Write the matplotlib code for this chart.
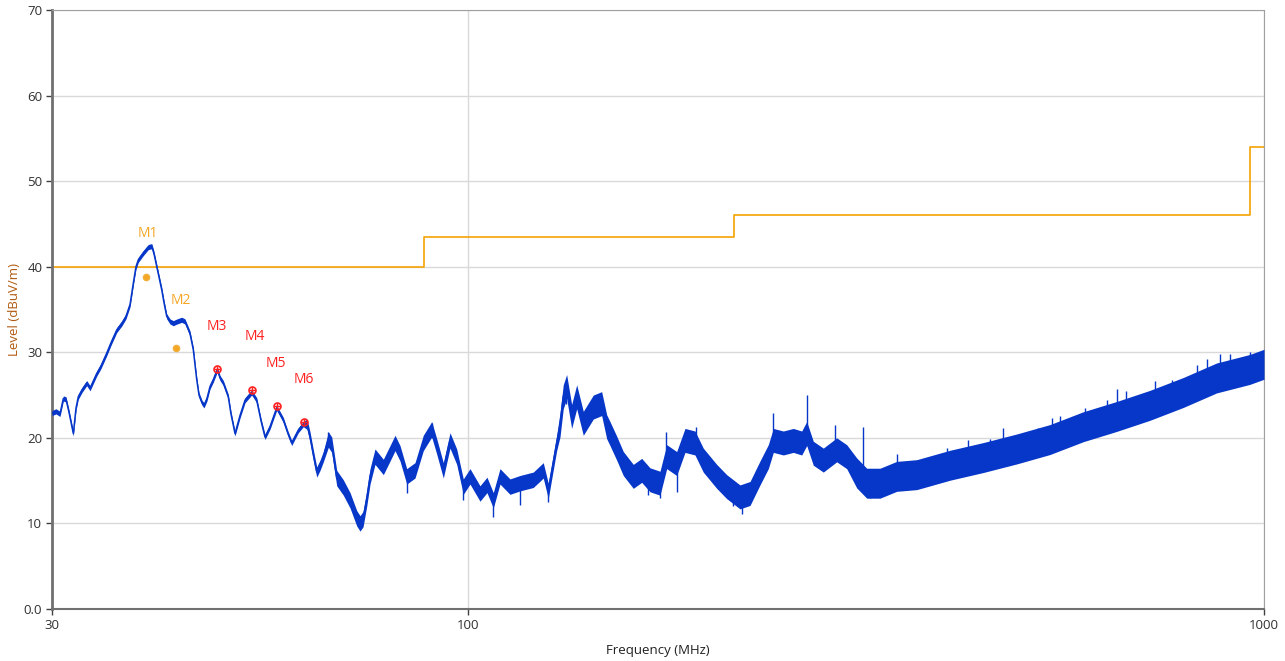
import numpy as np
import matplotlib
matplotlib.use("Agg")
import matplotlib.pyplot as plt
from matplotlib.ticker import FixedLocator, NullLocator

plt.rcParams['font.family'] = ['Open Sans', 'DejaVu Sans']

# ---- data ----
freq_mhz = [30.0, 30.35, 30.70, 31.00, 31.24, 31.51, 31.91, 32.16, 32.37, 32.72,
            33.17, 33.49, 34.14, 34.57, 35.15, 35.58, 36.18, 36.73, 37.16, 37.60,
            37.96, 38.25, 38.51, 39.07, 39.64, 40.04, 40.30, 40.62, 41.21, 41.48,
            41.81, 42.21, 42.61, 43.07, 43.66, 44.08, 44.72, 45.15, 45.60, 45.90,
            46.30, 46.57, 46.97, 47.39, 47.84, 48.40, 48.78, 49.25, 49.96, 50.35,
            50.94, 51.68, 52.44, 53.46, 54.24, 54.92, 55.56, 56.37, 57.47, 58.58,
            59.38, 60.02, 61.18, 62.07, 62.74, 63.29, 63.90, 64.53, 65.15, 65.77,
            66.74, 67.39, 68.37, 69.69, 71.06, 72.45, 73.14, 73.78, 74.57, 75.29,
            76.38, 78.24, 79.78, 80.93, 82.11, 83.72, 85.75, 87.83, 90.00, 91.31,
            93.07, 94.89, 96.75, 98.61, 100.54, 103.49, 105.6, 107.55, 109.65, 112.87,
            116.18, 120.74, 124.28, 126.09, 129.19, 130.44, 131.68, 132.98, 134.92, 136.90,
            139.54, 143.63, 147.16, 149.31, 150.74, 153.69, 156.66, 161.25, 165.22, 169.23,
            174.21, 177.62, 182.83, 187.27, 192.76, 197.44, 205.26, 211.28, 219.57, 226.03,
            232.67, 238.32, 241.80, 248.89, 256.19, 262.50, 266.33, 271.46, 279.42, 290.48,
            299.00, 307.79, 316.82, 329.26, 345.55, 366.15, 403.2, 443.9, 488.9, 538.3,
            592.8, 652.9, 718.9, 791.6, 871.9, 960.1, 1000.0]
level_dbuv = [22.9, 23.1, 22.8, 24.6, 24.5, 23.0, 20.5, 23.5, 24.8, 25.6,
              26.4, 25.8, 27.5, 28.4, 29.9, 31.1, 32.6, 33.4, 34.2, 35.6,
              38.1, 40.0, 40.8, 41.6, 42.3, 42.4, 41.5, 40.0, 37.3, 35.8,
              34.2, 33.6, 33.4, 33.6, 33.8, 33.6, 32.2, 30.3, 26.8, 25.0,
              24.1, 23.8, 24.6, 26.0, 26.8, 28.0, 27.0, 26.4, 24.8, 22.8,
              20.5, 22.6, 24.4, 25.3, 24.4, 22.0, 20.1, 21.3, 23.5, 22.1,
              20.5, 19.4, 20.9, 21.6, 21.6, 20.1, 18.0, 16.0, 16.8, 17.8,
              19.8, 19.2, 15.3, 14.2, 12.7, 10.6, 10.0, 10.5, 12.9, 15.5,
              17.8, 16.6, 18.2, 19.4, 18.2, 15.5, 16.2, 19.4, 21.0, 19.0,
              16.2, 19.7, 17.8, 14.3, 15.5, 13.5, 14.5, 12.7, 15.5, 14.3,
              14.7, 15.1, 16.2, 13.8, 19.4, 21.5, 24.8, 26.0, 22.5, 24.8,
              21.7, 23.6, 24.0, 21.3, 20.5, 18.8, 17.0, 15.5, 16.2, 15.1,
              14.7, 17.8, 17.0, 19.7, 19.4, 17.4, 15.5, 14.3, 13.1, 13.5,
              15.9, 17.8, 19.7, 19.4, 19.7, 19.4, 20.5, 18.2, 17.4, 18.6,
              17.8, 15.9, 14.7, 14.7, 15.5, 15.7, 16.8, 17.7, 18.7, 19.8,
              21.3, 22.5, 23.8, 25.3, 27.0, 28.0, 28.6]
# half width of the noise band around the trace (dB)
spread_db = [0.3] * 64 + [0.6] * 6 + [0.9] * 35 + [1.4] * 36 + [1.75] * 16

# isolated spikes / dips of the noisy trace: frequency, bottom, top (dB)
spike_freq = [66.74, 90.0, 132.6, 177.1, 193.3, 241.8, 266.3, 289.1, 313.7, 345.6,
              399.4, 425.1, 452.6, 470.4, 520.5, 541.1, 554.4, 595.9, 634.5, 652.9,
              670.9, 729.4, 765.5, 823.0, 847.2, 880.5, 906.3, 960.1,
              73.14, 83.72, 98.61, 107.55, 116.18, 126.09, 168.4, 174.21, 182.83,
              215.4, 220.7, 319.9]
spike_lo = [19.0, 20.0, 24.0, 18.0, 19.0, 19.0, 20.0, 19.0, 15.5, 16.0,
            17.0, 18.0, 18.5, 19.0, 20.0, 20.5, 20.5, 22.0, 23.0, 23.5,
            23.5, 25.0, 25.5, 27.0, 27.5, 28.0, 28.3, 29.0,
            9.6, 13.5, 12.7, 10.8, 12.2, 12.5, 13.3, 13.0, 13.7,
            12.0, 11.1, 13.0]
spike_hi = [20.7, 21.7, 26.4, 20.7, 21.3, 22.9, 25.0, 21.5, 21.3, 18.1,
            18.8, 19.7, 19.9, 21.1, 21.1, 22.3, 22.5, 23.5, 24.4, 25.7,
            25.5, 26.6, 26.8, 28.5, 29.2, 29.8, 29.8, 30.0,
            10.5, 15.5, 14.5, 12.7, 14.0, 14.0, 14.5, 14.0, 16.0,
            13.5, 12.5, 14.0]

limit_freq = [30, 88, 216, 960, 1000]
limit_level = [40, 43.5, 46, 54, 54]

marker_names = ['M1', 'M2', 'M3', 'M4', 'M5', 'M6']
marker_freq = [39.34, 42.9, 48.4, 53.46, 57.47, 62.2]
marker_level = [38.8, 30.5, 28.0, 25.6, 23.7, 21.9]
marker_label_freq = [39.6, 43.57, 48.3, 54.0, 57.4, 62.1]
marker_label_level = [43.9, 36.1, 33.0, 31.8, 28.7, 26.8]

x_ticks = [30, 100, 1000]
x_tick_labels = ['30', '100', '1000']
y_ticks = [0, 10, 20, 30, 40, 50, 60, 70]
y_tick_labels = ['0.0', '10', '20', '30', '40', '50', '60', '70']

# ---- figure ----
fig = plt.figure(figsize=(12.85, 6.61), dpi=100)
ax = fig.add_axes([52 / 1285, 1 - 609 / 661, 1212 / 1285, 599 / 661])
ax.set_xscale('log')
ax.set_xlim(30, 1000)
ax.set_ylim(0, 70)

f = np.array(freq_mhz)
lv = np.array(level_dbuv)
sp = np.array(spread_db)
blue = '#0637c9'
ax.fill_between(f, lv - sp, lv + sp, color=blue, linewidth=0, zorder=3)
ax.plot(f, lv, color=blue, linewidth=1.1, zorder=4)
ax.vlines(spike_freq, spike_lo, spike_hi, color=blue, linewidth=1.0, zorder=4)

ax.step(limit_freq, limit_level, where='post', color='#f5a300', linewidth=1.2, zorder=2)

for i, name in enumerate(marker_names):
    if i < 2:
        col = '#f5a623'
        ax.plot(marker_freq[i], marker_level[i], 'o', color=col, markersize=4.5,
                markeredgecolor='#f0b040', zorder=6)
    else:
        col = '#ff2020'
        ax.plot(marker_freq[i], marker_level[i], 'o', markerfacecolor='none',
                markeredgecolor=col, markersize=5, markeredgewidth=1.2, zorder=6)
        ax.plot(marker_freq[i], marker_level[i], '+', color=col, markersize=4,
                markeredgewidth=1.0, zorder=6)
    ax.text(marker_label_freq[i], marker_label_level[i], name, color=col,
            fontsize=10, ha='center', va='center', zorder=7)

ax.xaxis.set_major_locator(FixedLocator(x_ticks))
ax.xaxis.set_minor_locator(NullLocator())
ax.set_xticklabels(x_tick_labels)
ax.set_yticks(y_ticks)
ax.set_yticklabels(y_tick_labels)

ax.grid(True, which='major', color='#d9d9d9', linewidth=1.0, zorder=0)
ax.set_axisbelow(True)

for s in ['top', 'right']:
    ax.spines[s].set_color('#a0a0a0')
    ax.spines[s].set_linewidth(0.8)
ax.spines['left'].set_color('#707070')
ax.spines['left'].set_linewidth(2.0)
ax.spines['bottom'].set_color('#707070')
ax.spines['bottom'].set_linewidth(1.5)

ax.tick_params(axis='both', direction='out', length=4, width=1, color='#404040',
               labelsize=9.5, labelcolor='#303030', pad=3)

ax.set_xlabel('Frequency (MHz)', fontsize=9.5, color='#202020', labelpad=9)
ax.set_ylabel('Level (dBuV/m)', fontsize=9.5, color='#b05a10', labelpad=2)

fig.savefig('out.png', dpi=100)
